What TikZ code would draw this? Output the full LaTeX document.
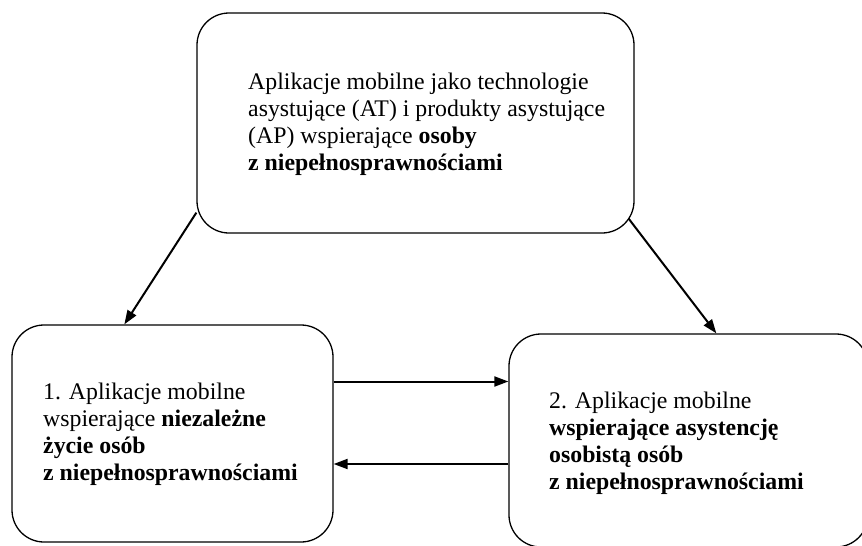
\documentclass[tikz,border=0pt]{standalone}
\usepackage{fontspec}
\setmainfont{Liberation Serif}
\usetikzlibrary{arrows.meta,positioning,calc}

\begin{document}
\begin{tikzpicture}[
    x=1pt, y=-1pt,
    font=\fontsize{23.8}{27}\selectfont,
    box/.style={draw, line width=1.3pt, rounded corners=32pt, inner sep=0pt},
    txt/.style={align=left, inner sep=0pt, anchor=west},
    arrow/.style={-{Triangle[length=14pt,width=10pt]}, line width=2pt}
  ]
    \useasboundingbox (0,0) rectangle (862,546);
    % boxes
    \node[box, minimum width=437pt, minimum height=220pt] (top) at (415.5,123) {};
    \node[box, minimum width=321pt, minimum height=217pt] (left) at (172.5,433.5) {};
    \node[box, minimum width=359pt, minimum height=213pt] (right) at (688.5,440.5) {};
    % texts
    \node[txt] (topTxt) at (248,124) {Aplikacje mobilne jako technologie\\asystujące (AT) i produkty asystujące\\(AP) wspierające \textbf{osoby}\\\textbf{z niepełnosprawnościami}};
    \node[txt] (leftTxt) at (43,434) {1. Aplikacje mobilne\\wspierające \textbf{niezależne}\\\textbf{życie osób}\\\textbf{z niepełnosprawnościami}};
    \node[txt] (rightTxt) at (549,443) {2. Aplikacje mobilne\\\textbf{wspierające asystencję}\\\textbf{osobistą osób}\\\textbf{z niepełnosprawnościami}};
    % connectors
    \draw[arrow] ($(top.south west)+(0,-21)$) -- ($(left.north west)+(113,0)$);
    \draw[arrow] ($(top.south east)+(-6,-15)$) -- ($(right.north west)+(208,0)$);
    \coordinate (ab) at ($(left.east)+(0,-52)$);
    \coordinate (ba) at ($(left.east)+(0,30.5)$);
    \draw[arrow] (ab) -- (ab -| right.west);
    \draw[arrow] (ba -| right.west) -- (ba);
\end{tikzpicture}
\end{document}
